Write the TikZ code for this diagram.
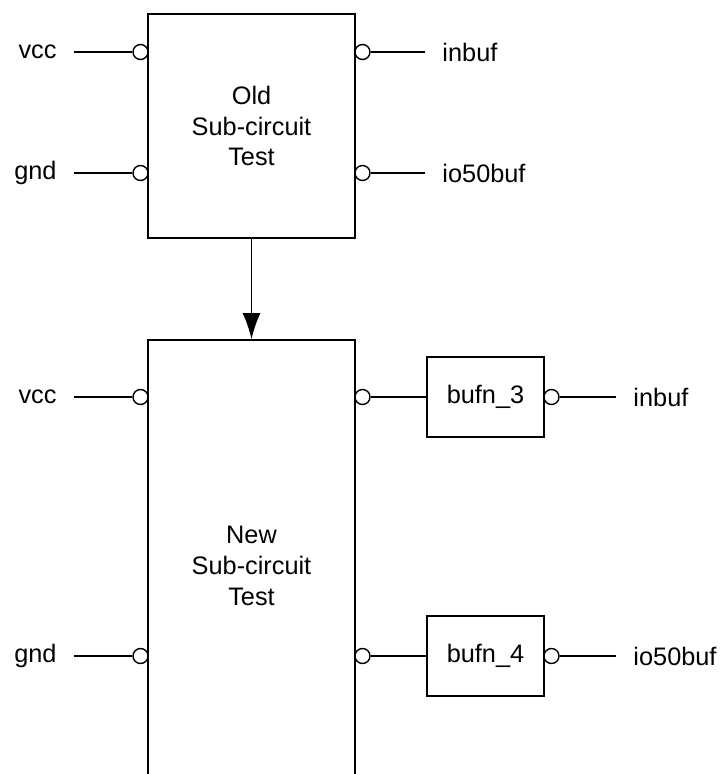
\documentclass[tikz,border=0pt]{standalone}
\usepackage{fontspec}
\setmainfont{Liberation Sans}
\usetikzlibrary{positioning}
\usetikzlibrary{arrows.meta}

\begin{document}
\begin{tikzpicture}[
                    x=0.025cm, y=-0.025cm,
                    every node/.style={font=\fontsize{18}{22}\selectfont},
                    block/.style={draw, line width=1.1pt, align=center, inner sep=0pt},
                    pinc/.style={draw, circle, line width=1pt, minimum size=0.375cm, inner sep=0pt, fill=white},
                    lbl left/.style={anchor=east, inner xsep=0.43cm, inner ysep=0pt},
                    lbl right/.style={anchor=west, inner xsep=0.43cm, inner ysep=0pt},
                    wire/.style={line width=1pt}
                ]
                \useasboundingbox (0,0) rectangle (723,774);
                \clip (0,0) rectangle (723,774);

                % old sub-circuit
                \node[block, minimum width=5.175cm, minimum height=5.6cm] (old) at (251.5,126) {Old\\Sub-circuit\\Test};
                \node[pinc] (oa) at (140.5,52) {};
                \node[pinc] (ob) at (140.5,173) {};
                \node[pinc] (oc) at (362.5,52) {};
                \node[pinc] (od) at (362.5,173) {};
                \node[lbl left] (oal) at (74,52) {vcc};
                \node[lbl left] (obl) at (74,173) {gnd};
                \node[lbl right] (ocl) at (425,52) {inbuf};
                \node[lbl right] (odl) at (425,173) {io50buf};
                \draw[wire] (oal) -- (oa);
                \draw[wire] (obl) -- (ob);
                \draw[wire] (oc) -- (ocl);
                \draw[wire] (od) -- (odl);

                % new sub-circuit
                \node[block, minimum width=5.175cm, minimum height=11.3cm] (new) at (251.5,566) {New\\Sub-circuit\\Test};
                \node[pinc] (na) at (140.5,397) {};
                \node[pinc] (nb) at (140.5,656) {};
                \node[pinc] (nc) at (362.5,397) {};
                \node[pinc] (nd) at (362.5,656) {};
                \node[lbl left] (nal) at (74,397) {vcc};
                \node[lbl left] (nbl) at (74,656) {gnd};
                \draw[wire] (nal) -- (na);
                \draw[wire] (nbl) -- (nb);

                % buffers
                \node[block, minimum width=2.925cm, minimum height=2cm] (b3) at (485.5,397) {bufn\_3};
                \node[block, minimum width=2.925cm, minimum height=2cm] (b4) at (485.5,656) {bufn\_4};
                \node[pinc] (b3o) at (551.5,397) {};
                \node[pinc] (b4o) at (551.5,656) {};
                \node[lbl right] (b3l) at (616,397) {inbuf};
                \node[lbl right] (b4l) at (616,656) {io50buf};
                \draw[wire] (nc) -- (b3);
                \draw[wire] (nd) -- (b4);
                \draw[wire] (b3o) -- (b3l);
                \draw[wire] (b4o) -- (b4l);

                \draw[line width=1.1pt, -{Latex[length=0.65cm, width=0.45cm]}] (old) -- (new);
            \end{tikzpicture}
\end{document}
